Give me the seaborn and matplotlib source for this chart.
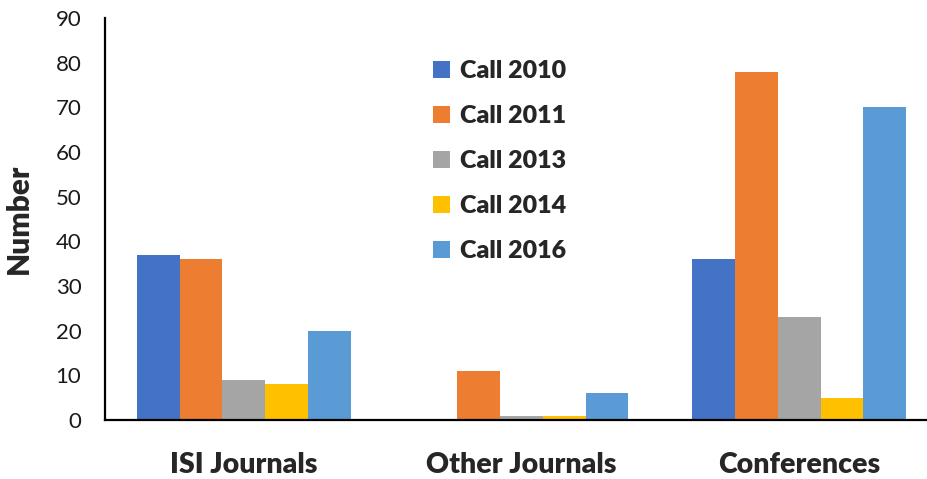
import pandas as pd
import matplotlib.pyplot as plt
import seaborn as sns
from matplotlib.ticker import FixedLocator

# data
categories = ["ISI Journals", "Other Journals", "Conferences"]
calls = ["Call 2010", "Call 2011", "Call 2013", "Call 2014", "Call 2016"]
call_2010 = [37, 0, 36]
call_2011 = [36, 11, 78]
call_2013 = [9, 1, 23]
call_2014 = [8, 1, 5]
call_2016 = [20, 6, 70]
colors = ["#4472C4", "#ED7D31", "#A5A5A5", "#FFC000", "#5B9BD5"]

series = [call_2010, call_2011, call_2013, call_2014, call_2016]
rows = []
for call, vals in zip(calls, series):
    for cat, v in zip(categories, vals):
        rows.append({"category": cat, "call": call, "value": v})
df = pd.DataFrame(rows)

sns.set_style("white")
plt.rcParams["font.family"] = ["Lato", "DejaVu Sans"]
heavy = 800

fig = plt.figure(figsize=(9.28, 4.79), dpi=100)
ax = fig.add_axes([105 / 928, 59 / 479, 833 / 928, 402 / 479])

sns.barplot(data=df, x="category", y="value", hue="call", order=categories,
            hue_order=calls, palette=colors, width=0.77, saturation=1,
            linewidth=0, ax=ax)

ax.set_xlim(-0.5, 2.5)
ax.set_ylim(0, 90)
ax.set_yticks(range(0, 91, 10))
ax.set_xlabel("")
ax.set_ylabel("Number", fontsize=21.5, fontweight=heavy)
ax.yaxis.set_label_coords(-0.087, 0.5)

for side in ["top", "right"]:
    ax.spines[side].set_visible(False)
for side in ["left", "bottom"]:
    ax.spines[side].set_linewidth(1.6)
    ax.spines[side].set_color("black")

ax.tick_params(axis="y", direction="in", length=6, width=1.2, color="#404040",
               labelsize=16, pad=17, labelcolor="#1a1a1a")
ax.tick_params(axis="x", which="major", length=0, pad=23, labelsize=20.5)
for lab in ax.get_xticklabels():
    lab.set_fontweight(heavy)
ax.xaxis.set_minor_locator(FixedLocator([0.5, 1.5]))
ax.tick_params(axis="x", which="minor", direction="in", length=7, width=1.2,
               color="#404040")

leg = ax.legend(loc="upper left", bbox_to_anchor=(433 / 928, 1 - 60 / 479),
                bbox_transform=fig.transFigure, frameon=False,
                prop={"size": 18, "weight": heavy}, handlelength=0.68,
                handleheight=0.68, handletextpad=0.4, labelspacing=0.92,
                borderpad=0, borderaxespad=0)

fig.savefig("out.png", dpi=100)
